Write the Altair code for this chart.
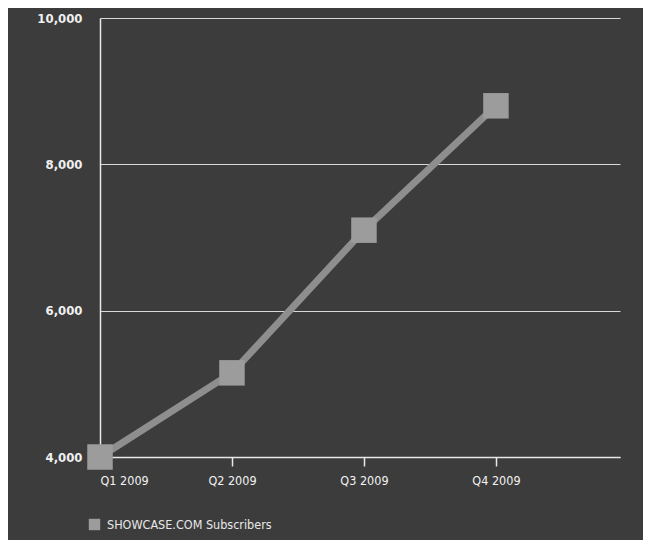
import altair as alt
import pandas as pd

quarters = ["Q1 2009", "Q2 2009", "Q3 2009", "Q4 2009"]
subscribers = [4000, 5150, 7100, 8800]
series_name = "SHOWCASE.COM Subscribers"
y_ticks = [4000, 6000, 8000, 10000]

df = pd.DataFrame({
    "idx": list(range(len(quarters))),
    "quarter": quarters,
    "subscribers": subscribers,
    "series": [series_name] * len(quarters),
})

label_expr = "[" + ",".join(f"'{q}'" for q in quarters) + "][datum.value]"

FONT = "DejaVu Sans Condensed"

x_enc = alt.X(
    "idx:Q",
    scale=alt.Scale(domain=[0, 3.94], nice=False, zero=False),
    axis=alt.Axis(
        title=None, values=list(range(len(quarters))), labelExpr=label_expr,
        grid=False, domain=True, domainColor="#e8e8e8", domainWidth=1.5,
        ticks=True, tickColor="#e8e8e8", tickSize=9, tickWidth=1.5,
        labelColor="#f2f2f2", labelFont=FONT, labelFontSize=12.5,
        labelPadding=8, labelFontWeight="normal",
    ),
)
y_enc = alt.Y(
    "subscribers:Q",
    scale=alt.Scale(domain=[4000, 10000], nice=False, zero=False),
    axis=alt.Axis(
        title=None, values=y_ticks, format=",d",
        grid=True, gridColor="#d8d8d8", gridWidth=1,
        domain=True, domainColor="#e8e8e8", domainWidth=1.5,
        ticks=False, labelPadding=18,
        labelColor="#f0f0f0", labelFont=FONT, labelFontSize=13,
        labelFontWeight="bold", labelBaseline="middle",
    ),
)

line = alt.Chart(df).mark_line(color="#8e8e8e", strokeWidth=7).encode(x=x_enc, y=y_enc)

points = alt.Chart(df).mark_point(shape="square", filled=True, size=650, opacity=1).encode(
    x=x_enc,
    y=y_enc,
    color=alt.Color(
        "series:N",
        scale=alt.Scale(range=["#9c9c9c"]),
        legend=alt.Legend(
            title=None, orient="none", legendX=-12, legendY=500,
            symbolType="square", symbolSize=130, symbolOpacity=1,
            labelColor="#e8e8e8", labelFont=FONT, labelFontSize=12.5,
            labelOffset=6, labelLimit=400,
        ),
    ),
)

chart = (
    alt.layer(line, points)
    .properties(
        width=520, height=439,
        autosize=alt.AutoSizeParams(type="none"),
        padding={"left": 92, "top": 10, "right": 23, "bottom": 83},
        background="#3c3c3c",
    )
    .configure_view(stroke=None)
)

chart.save("out.html", embed_options={"renderer": "svg", "actions": False})
